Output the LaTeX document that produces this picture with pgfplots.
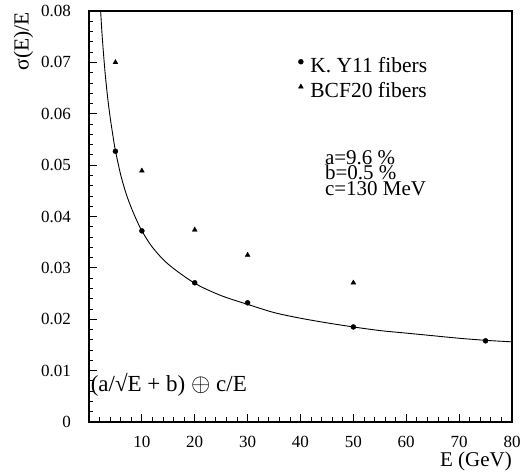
\documentclass[border=0pt]{standalone}
\usepackage{fontspec}
\setmainfont{Liberation Serif}
\usepackage{pgfplots}
\pgfplotsset{compat=1.18}

\begin{document}
\begin{tikzpicture}
\begin{axis}[
    scale only axis,
    width=423pt, height=411pt,
    xmin=0, xmax=80, ymin=0, ymax=0.08,
    xtick={0,10,20,30,40,50,60,70,80},
    xticklabels={,10,20,30,40,50,60,70,80},
    ytick={0,0.01,0.02,0.03,0.04,0.05,0.06,0.07,0.08},
    scaled y ticks=false,
    minor x tick num=4, minor y tick num=4,
    tick pos=left,
    tick align=inside,
    major tick length=8pt, minor tick length=4.5pt,
    tick style={black, line width=0.8pt},
    axis line style={line width=1.1pt},
    /pgf/number format/assume math mode=true,
    yticklabel style={/pgf/number format/fixed, /pgf/number format/precision=2,
        inner sep=0pt, xshift=-18pt},
    xticklabel style={inner sep=0pt, yshift=-14pt},
    ticklabel style={font=\fontsize{17}{20}\selectfont},
    xlabel={E (GeV)},
    ylabel={σ(E)/E},
    xlabel style={at={(axis description cs:1,0)}, anchor=north east,
        inner sep=0pt, yshift=-30pt, font=\fontsize{21}{24}\selectfont},
    ylabel style={at={(axis description cs:-0.155,0.997)}, anchor=east,
        inner sep=0pt, font=\fontsize{21.5}{26}\selectfont},
    legend image code/.code={\draw[#1] plot coordinates {(0pt,6pt)};},
    legend style={at={(axis cs:39.6,0.0709)}, anchor=north west,
        draw=none, fill=none, inner sep=0pt, outer sep=0pt,
        row sep=5pt, column sep=7pt,
        nodes={inner sep=0pt, text height=15pt, text depth=5pt,
            font=\rmfamily\fontsize{21.5}{24}\selectfont}},
    legend cell align=left,
]
% fit curve
\addplot[black, line width=0.9pt, smooth, forget plot] coordinates {
    (2.2,0.0800) (2.5,0.0750) (3,0.0685) (3.5,0.0634) (4,0.0593)
    (4.5,0.0559) (5,0.0528) (6,0.0481) (7,0.0445) (8,0.0417)
    (9,0.0393) (10,0.0372) (12,0.0340) (15,0.0307) (20,0.0270)
    (25,0.0246) (30,0.0229) (35,0.0213) (40,0.0202) (45,0.0193)
    (50,0.0185) (55,0.0178) (60,0.0173) (65,0.0168) (70,0.0163)
    (75,0.0159) (80,0.0156)
};
\addplot[only marks, mark=*, mark size=2.5pt, black] coordinates {
    (5,0.0527) (10,0.0372) (20,0.0271) (30,0.0232) (50,0.0185) (75,0.0158)
};
\addlegendentry{K. Y11 fibers}
\addplot[only marks, mark=triangle*, mark size=2.8pt, black] coordinates {
    (5,0.0700) (10,0.0489) (20,0.0374) (30,0.0325) (50,0.0271)
};
\addlegendentry{BCF20 fibers}
\node[anchor=north west, align=left, inner sep=0pt,
    font=\fontsize{21}{15.5}\selectfont] at (axis cs:44.6,0.0529)
    {a=9.6 \%\\b=0.5 \%\\c=130 MeV};
\node[anchor=west, inner sep=0pt, font=\fontsize{23}{24}\selectfont]
    at (axis cs:0.3,0.0072) {(a/√E + b) $\oplus$ c/E};
\end{axis}
\pgfresetboundingbox
\path[use as bounding box] (current axis.south west) ++(-89pt,-52pt)
    rectangle ++(520pt,474pt);
\end{tikzpicture}
\end{document}
